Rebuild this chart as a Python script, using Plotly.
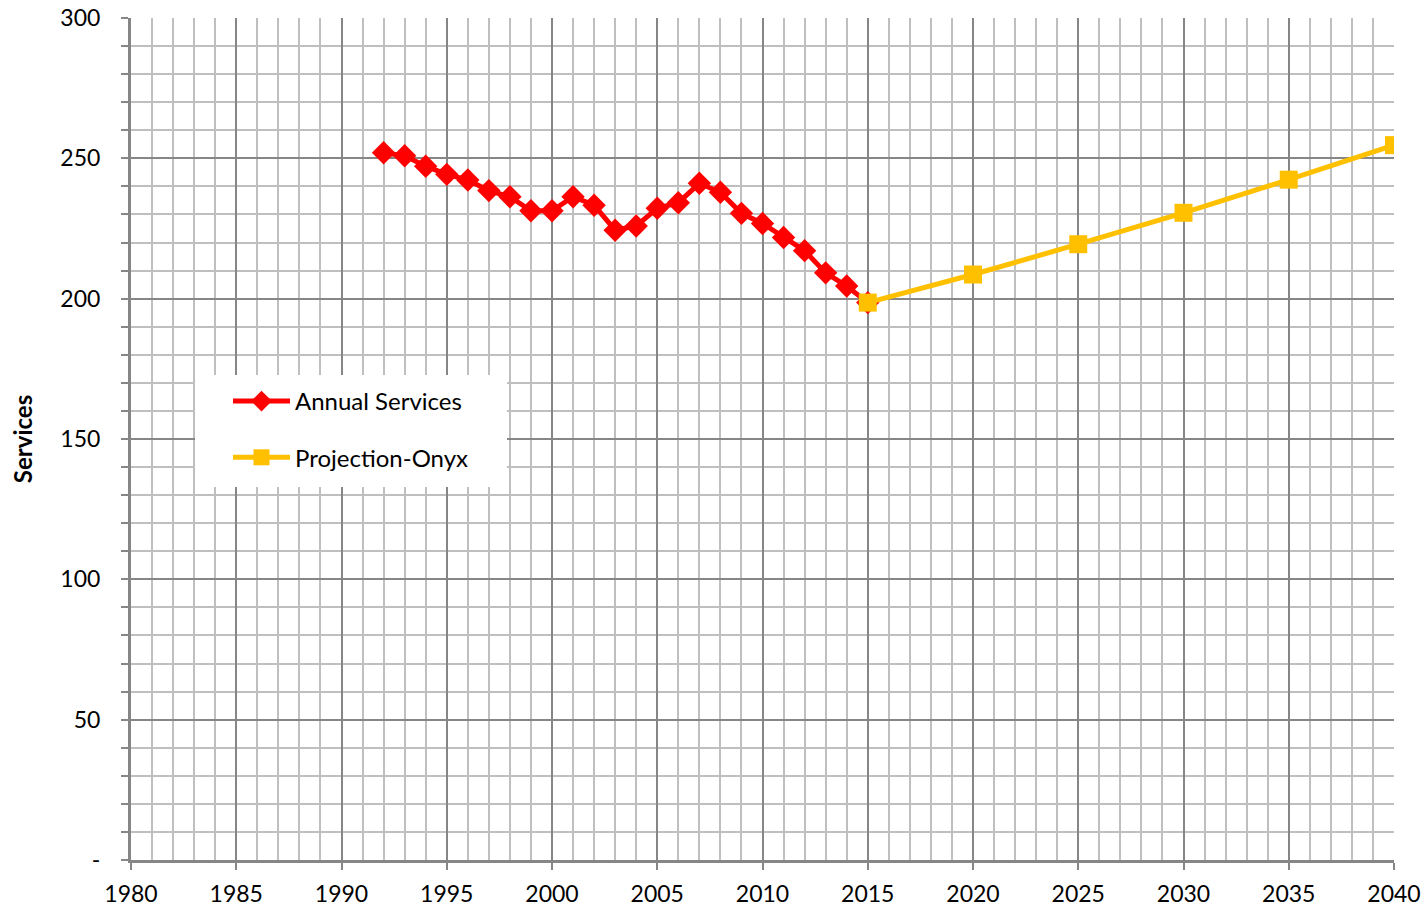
import plotly.graph_objects as go

years_hist = list(range(1992, 2016))
services_hist = [252.0, 250.9, 247.2, 244.3, 242.3, 238.5, 236.3, 231.3, 231.3, 236.3,
                 233.3, 224.4, 225.9, 232.2, 234.2, 241.1, 237.9, 230.4, 226.8, 221.8,
                 217.1, 209.2, 204.5, 198.6]

years_proj = [2015, 2020, 2025, 2030, 2035, 2040]
services_proj = [198.6, 208.6, 219.4, 230.6, 242.4, 254.7]

y_tickvals = [0, 50, 100, 150, 200, 250, 300]
y_ticktext = ["-", "50", "100", "150", "200", "250", "300"]
x_tickvals = list(range(1980, 2041, 5))

FONT = "Lato, 'Open Sans', sans-serif"
MAJOR = "#868686"
MINOR = "#BFBFBF"

fig = go.Figure()
fig.add_trace(go.Scatter(
    x=years_hist, y=services_hist, mode="lines+markers", name="Annual Services",
    line=dict(color="#FF0000", width=5),
    marker=dict(symbol="diamond", size=18, color="#FF0000"),
    legendgroup="a",
))
fig.add_trace(go.Scatter(
    x=years_proj, y=services_proj, mode="lines+markers", name="Projection-Onyx",
    line=dict(color="#FFC000", width=5),
    marker=dict(symbol="square", size=18, color="#FFC000"),
    legendgroup="b",
))

# white box behind the legend (paper coordinates)
fig.add_shape(type="rect", xref="paper", yref="paper",
              x0=(195 - 131) / 1263, x1=(507 - 131) / 1263,
              y0=(860 - 487) / 842, y1=(860 - 375) / 842,
              fillcolor="white", line=dict(width=0), layer="above")

fig.update_layout(
    width=1427, height=912,
    margin=dict(l=131, r=33, t=18, b=52, autoexpand=False),
    paper_bgcolor="white", plot_bgcolor="white",
    font=dict(family=FONT, size=20, color="black"),
    showlegend=True,
    legend=dict(
        x=(228 - 131) / 1263, y=(860 - 379) / 842, xanchor="left", yanchor="top",
        bgcolor="rgba(0,0,0,0)", borderwidth=0,
        font=dict(family=FONT, size=24, color="black"),
        tracegroupgap=22, itemwidth=57,
    ),
    xaxis=dict(
        range=[1980, 2040], tickvals=x_tickvals,
        showgrid=True, gridcolor=MAJOR, gridwidth=2,
        ticks="outside", ticklen=7, tickwidth=2, tickcolor=MAJOR,
        ticklabelstandoff=4,
        showline=True, linecolor=MAJOR, linewidth=3,
        zeroline=False,
        minor=dict(dtick=1, tick0=1980, showgrid=True, gridcolor=MINOR, gridwidth=2, ticks=""),
        tickfont=dict(family=FONT, size=23, color="black"),
    ),
    yaxis=dict(
        range=[0, 300], tickvals=y_tickvals, ticktext=y_ticktext,
        showgrid=True, gridcolor=MAJOR, gridwidth=2,
        ticks="outside", ticklen=7, tickwidth=2, tickcolor=MAJOR,
        ticklabelstandoff=16,
        minor=dict(dtick=10, tick0=0, showgrid=True, gridcolor=MINOR, gridwidth=2,
                   ticks="outside", ticklen=7, tickwidth=2, tickcolor=MAJOR),
        showline=True, linecolor=MAJOR, linewidth=3,
        zeroline=False,
        title=dict(text="<b>Services</b>", font=dict(family=FONT, size=24, color="black"), standoff=21),
        tickfont=dict(family=FONT, size=23, color="black"),
    ),
)

fig.write_html("out.html", config={"displayModeBar": False},
               post_script="document.body.style.margin='0';document.body.style.overflow='hidden';")
